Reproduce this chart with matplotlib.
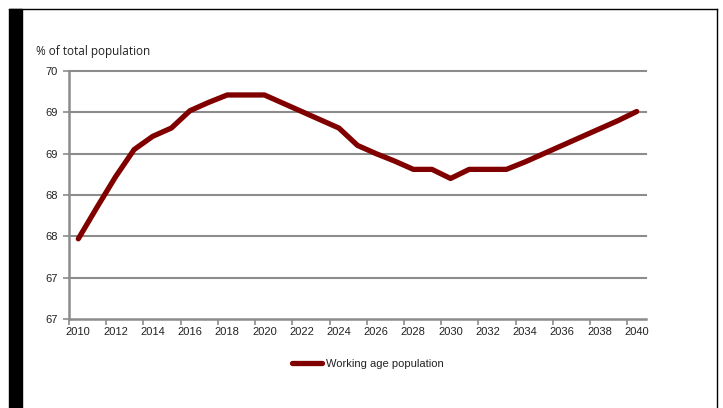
import numpy as np
import matplotlib
matplotlib.use("Agg")
import matplotlib.pyplot as plt
from matplotlib.patches import Rectangle
from matplotlib.lines import Line2D

years = list(range(2010, 2041))
working_age = [67.97, 68.35, 68.72, 69.05, 69.21, 69.31, 69.52, 69.62, 69.71, 69.71,
               69.71, 69.61, 69.51, 69.41, 69.31, 69.10, 69.00, 68.91, 68.81, 68.81,
               68.70, 68.81, 68.81, 68.81, 68.90, 69.00, 69.10, 69.20, 69.30, 69.40,
               69.51]
y_ticks = [67.0, 67.5, 68.0, 68.5, 69.0, 69.5, 70.0]
y_labels = ["67", "67", "68", "68", "69", "69", "70"]

GRID = "#8c8c8c"
LINE = "#800000"
TXT = "#222222"

plt.rcParams["font.family"] = ["Liberation Sans", "DejaVu Sans"]

fig = plt.figure(figsize=(7.23, 4.08), dpi=100)
ax = fig.add_axes([69 / 723, 1 - 319 / 408, (646 - 69) / 723, (319 - 71) / 408])

x = np.arange(len(years))
ax.plot(x, working_age, color=LINE, lw=3.8, solid_capstyle="round",
        solid_joinstyle="round", zorder=3)

ax.set_xlim(-0.5, len(years) - 0.5)
ax.set_ylim(67, 70)

# category axis: labels every other year, ticks on category boundaries
ax.set_xticks(x[::2])
ax.set_xticklabels([str(y) for y in years[::2]])
ax.set_xticks(np.arange(-0.5, len(years) - 1, 2), minor=True)
ax.tick_params(axis="x", which="major", length=0, pad=6, labelsize=8, labelcolor=TXT)
ax.tick_params(axis="x", which="minor", length=4, width=1.2, color=GRID, direction="out")

ax.set_yticks(y_ticks)
ax.set_yticklabels(y_labels)
ax.tick_params(axis="y", length=4, width=1.2, color=GRID, direction="out",
               pad=4, labelsize=8, labelcolor=TXT)

# horizontal gridlines, unclipped so the top one keeps its full width
for yv in y_ticks[1:]:
    ax.axhline(yv, color=GRID, lw=1.5, zorder=1, clip_on=False)
for side in ("top", "right"):
    ax.spines[side].set_visible(False)
for side in ("left", "bottom"):
    ax.spines[side].set_color(GRID)
    ax.spines[side].set_linewidth(1.8)

fig.text(36 / 723, 1 - 52 / 408, "% of total population", fontsize=8.5,
         family="Open Sans", color=TXT, va="center", ha="left")

handle = Line2D([], [], color=LINE, lw=3.8, solid_capstyle="round")
fig.legend([handle], ["Working age population"], loc="center",
           bbox_to_anchor=(368 / 723, 1 - 364 / 408), frameon=False,
           fontsize=8, handlelength=2.7, handletextpad=0.4,
           labelcolor=TXT)

# page frame: thick black bar on the left, thin rules top and right
fig.patches.append(Rectangle((9 / 723, 0), 13 / 723, 1 - 9 / 408,
                             transform=fig.transFigure, color="black", zorder=5))
fig.lines.append(Line2D([9 / 723, 717 / 723], [1 - 9 / 408, 1 - 9 / 408],
                        transform=fig.transFigure, color="black", lw=1))
fig.lines.append(Line2D([717 / 723, 717 / 723], [0, 1 - 9 / 408],
                        transform=fig.transFigure, color="black", lw=1))

fig.savefig("out.png", dpi=100)
